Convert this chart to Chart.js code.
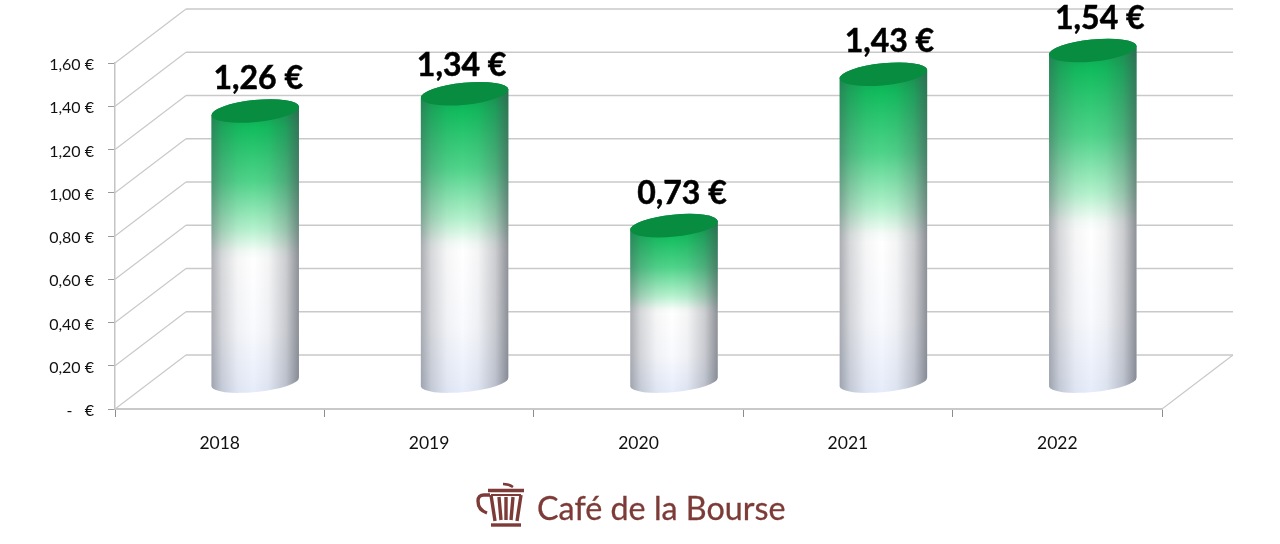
<!DOCTYPE html>
<html lang="fr">
<head>
    <meta charset="UTF-8">
    <title>Café de la Bourse</title>
    <script src="https://cdn.jsdelivr.net/npm/chart.js@4"></script>
    <style>
        body { margin: 0; background: #fff; width: 1280px; height: 544px; overflow: hidden; position: relative; }
        canvas { position: absolute; left: 0; top: 0; }
        .logo { position: absolute; left: 476px; top: 482px; width: 320px; height: 48px; }
        .logo svg { position: absolute; left: 0; top: 0; }
        .logo span { position: absolute; left: 61px; top: 6px; font: 400 32.3px Lato, sans-serif; color: #7d3b37; white-space: nowrap; -webkit-text-stroke: 0.3px #7d3b37; }
    </style>
</head>
<body>
    <canvas id="chart" width="1280" height="544"></canvas>
    <div class="logo">
        <svg width="52" height="48" viewBox="0 0 52 48" fill="none" stroke="#7d3b37" stroke-width="3.4">
            <path d="M27 2 Q33 2 37 5" stroke-width="2.4"/>
            <path d="M12 8.5 H48"/>
            <path d="M15 13 H45" stroke-width="2"/>
            <path d="M15 13 L19 39 M45 13 L41 39 M23 15 L25 38 M30 15 V38 M37 15 L35 38"/>
            <path d="M14 13 H8 Q2 13 2 19 Q2 28 11 31"/>
            <path d="M15 43 H45"/>
        </svg>
        <span>Café de la Bourse</span>
    </div>

    <script>
        const years = ['2018', '2019', '2020', '2021', '2022'];
        const dividends = [1.26, 1.34, 0.73, 1.43, 1.54];
        const yTicks = [0, 0.2, 0.4, 0.6, 0.8, 1.0, 1.2, 1.4, 1.6];

        // Décalage de la perspective 3D
        const depthX = 71;
        const depthY = -54;
        const tilt = -0.1;
        const capRadius = 11;
        const footRadius = 10;
        const labelNudgeX = [3, -3, 8, 6, 7];
        const labelNudgeY = [-1, 3, 0, -1, 0];

        function euro(v) {
            return v.toFixed(2).replace('.', ',') + ' €';
        }

        // Murs et sol en perspective
        function drawWalls(chart) {
            const ctx = chart.ctx;
            const y = chart.scales.y;
            const x = chart.scales.x;
            const left = x.left;
            const right = x.right;

            ctx.save();
            yTicks.forEach(t => {
                const py = y.getPixelForValue(t);
                ctx.strokeStyle = '#c9c9c9';
                ctx.lineWidth = 1.2;
                ctx.beginPath();
                ctx.moveTo(left, py);
                ctx.lineTo(left + depthX, py + depthY);
                ctx.stroke();
                ctx.lineWidth = 1.6;
                ctx.beginPath();
                ctx.moveTo(left + depthX, py + depthY);
                ctx.lineTo(right + depthX, py + depthY);
                ctx.stroke();
            });
            const y0 = y.getPixelForValue(0);
            ctx.lineWidth = 1.2;
            ctx.beginPath();
            ctx.moveTo(right, y0);
            ctx.lineTo(right + depthX, y0 + depthY);
            ctx.stroke();
            ctx.restore();
        }

        function drawCylinder(ctx, bar, base) {
            const cx = bar.x + depthX / 2;
            const top = bar.y + depthY / 2 + 1.5;
            const bottom = base + depthY / 2;
            const rx = bar.width / 2;
            const dx = rx * Math.cos(tilt);
            const dy = rx * Math.sin(tilt);

            ctx.save();
            ctx.beginPath();
            ctx.moveTo(cx - dx, top - dy);
            ctx.lineTo(cx - dx, bottom - dy);
            ctx.ellipse(cx, bottom, rx, footRadius, tilt, Math.PI, 0, true);
            ctx.lineTo(cx + dx, top + dy);
            ctx.ellipse(cx, top, rx, capRadius, tilt, 0, Math.PI, true);
            ctx.closePath();
            ctx.clip();

            const v = ctx.createLinearGradient(0, top, 0, bottom + footRadius);
            v.addColorStop(0, '#0aa850');
            v.addColorStop(0.06, '#12bd5e');
            v.addColorStop(0.25, '#4fd48a');
            v.addColorStop(0.42, '#b4f2cd');
            v.addColorStop(0.5, '#f6fdf9');
            v.addColorStop(0.53, '#ffffff');
            v.addColorStop(0.78, '#f9fafe');
            v.addColorStop(1, '#e6ecfa');
            ctx.fillStyle = v;
            ctx.fillRect(cx - rx - 2, top - capRadius - 8, bar.width + 4, bottom - top + 2 * capRadius + 16);

            // Ombrage des bords du cylindre
            const h = ctx.createLinearGradient(cx - rx, 0, cx + rx, 0);
            h.addColorStop(0, 'rgba(70,75,85,0.46)');
            h.addColorStop(0.12, 'rgba(70,75,85,0.22)');
            h.addColorStop(0.3, 'rgba(70,75,85,0.05)');
            h.addColorStop(0.48, 'rgba(70,75,85,0)');
            h.addColorStop(0.65, 'rgba(70,75,85,0.06)');
            h.addColorStop(0.85, 'rgba(70,75,85,0.28)');
            h.addColorStop(1, 'rgba(70,75,85,0.62)');
            ctx.fillStyle = h;
            ctx.fillRect(cx - rx - 2, top - capRadius - 8, bar.width + 4, bottom - top + 2 * capRadius + 16);
            ctx.restore();

            // Dessus du cylindre
            ctx.save();
            ctx.beginPath();
            ctx.ellipse(cx, top, rx, capRadius, tilt, 0, Math.PI * 2);
            ctx.fillStyle = '#078c40';
            ctx.fill();
            ctx.restore();
        }

        const cylinders = {
            id: 'cylinders',
            beforeDatasetsDraw(chart) {
                drawWalls(chart);
            },
            afterDatasetsDraw(chart) {
                const ctx = chart.ctx;
                const base = chart.scales.y.getPixelForValue(0);
                const bars = chart.getDatasetMeta(0).data;
                bars.forEach(bar => drawCylinder(ctx, bar, base));

                ctx.save();
                ctx.fillStyle = '#000';
                ctx.strokeStyle = '#000';
                ctx.lineWidth = 0.5;
                ctx.font = 'bold 32px Lato, sans-serif';
                ctx.textAlign = 'center';
                ctx.textBaseline = 'middle';
                bars.forEach((bar, i) => {
                    const lx = bar.x + depthX / 2 + labelNudgeX[i];
                    const ly = bar.y + depthY / 2 - 30 + labelNudgeY[i];
                    ctx.fillText(euro(dividends[i]), lx, ly);
                    ctx.strokeText(euro(dividends[i]), lx, ly);
                });
                ctx.restore();
            }
        };

        new Chart(document.getElementById('chart').getContext('2d'), {
            type: 'bar',
            data: {
                labels: years,
                datasets: [{
                    data: dividends,
                    backgroundColor: 'rgba(0,0,0,0)',
                    categoryPercentage: 0.42,
                    barPercentage: 1
                }]
            },
            options: {
                responsive: false,
                animation: false,
                layout: { padding: { top: 63, right: 118, bottom: 0, left: 0 } },
                plugins: { legend: { display: false }, tooltip: { enabled: false } },
                scales: {
                    x: {
                        afterFit(scale) { scale.height = 135; },
                        border: { color: '#c9c9c9', width: 2 },
                        grid: { drawOnChartArea: false, color: '#8c8c8c', tickLength: 8 },
                        ticks: { color: '#111', font: { family: 'Lato', size: 17.5 }, padding: 16, maxRotation: 0 }
                    },
                    y: {
                        min: 0,
                        max: 1.6,
                        afterFit(scale) { scale.width = 115; },
                        afterBuildTicks(scale) { scale.ticks = yTicks.map(value => ({ value })); },
                        border: { color: '#c4c4c4', width: 1.5 },
                        grid: { drawOnChartArea: false, color: '#9a9a9a', tickLength: 7 },
                        ticks: {
                            color: '#111',
                            font: { family: 'Lato', size: 16 },
                            padding: 14,
                            labelOffset: 2,
                            callback: v => v === 0 ? '-   €' : euro(v)
                        }
                    }
                }
            },
            plugins: [cylinders]
        });
    </script>
</body>
</html>
